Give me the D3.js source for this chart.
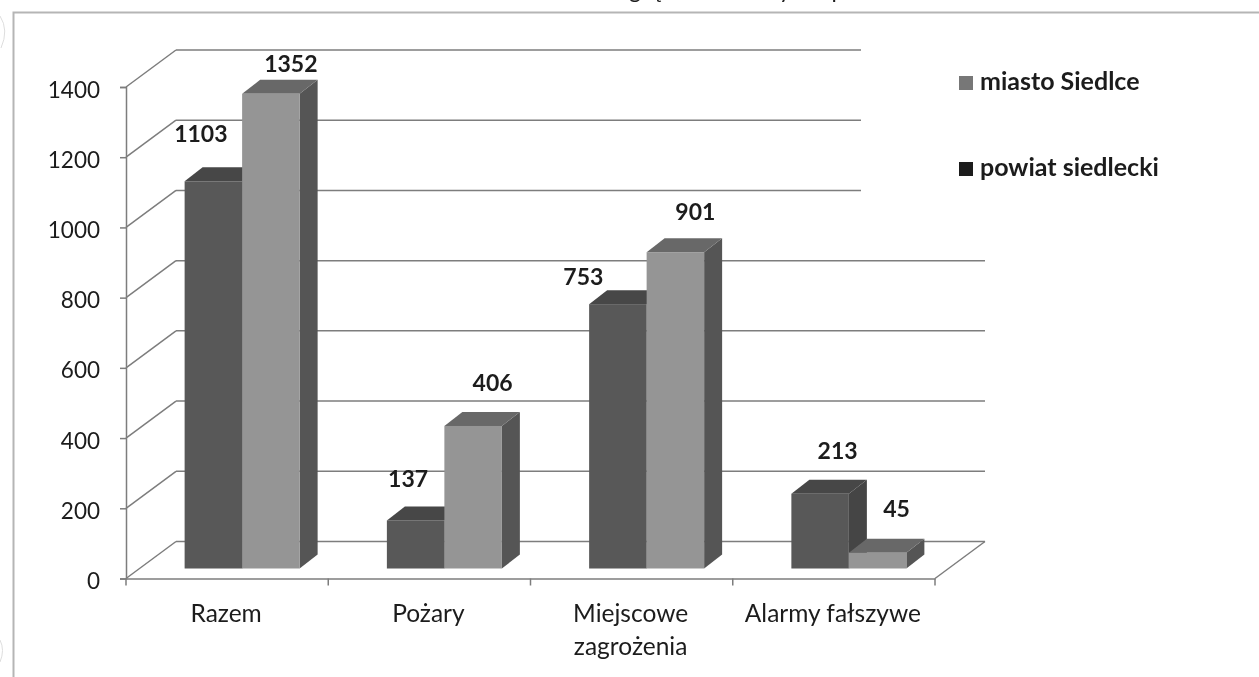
<!DOCTYPE html>
<html lang="pl">
<head>
<meta charset="utf-8">
<title>Wykres</title>
<script src="https://cdn.jsdelivr.net/npm/d3@7/dist/d3.min.js"></script>
<style>
html,body{margin:0;padding:0;background:#fff;overflow:hidden}
svg{display:block}
text{font-family:Lato,"Open Sans",sans-serif;fill:#1b1b1b}
</style>
</head>
<body>
<svg id="chart" width="1259" height="677"></svg>
<script>
const categories = ["Razem", "Pożary", "Miejscowe zagrożenia", "Alarmy fałszywe"];
const seriesNames = ["powiat siedlecki", "miasto Siedlce"];
const powiatValues = [1103, 137, 753, 213];
const miastoValues = [1352, 406, 901, 45];
const yTicks = [0, 200, 400, 600, 800, 1000, 1200, 1400];

// manual data-label placement, relative to the top centre of each bar
const labelShiftPowiat = [[-12.5, -39], [-7.5, -33], [-34.5, -19], [17.5, -35]];
const labelShiftMiasto = [[20, -22], [19.5, -34.6], [20, -32], [19, -36]];

const svg = d3.select("#chart");
const defs = svg.append("defs");
defs.append("filter").attr("id", "scan").attr("x", "-5%").attr("y", "-5%").attr("width", "110%").attr("height", "110%")
  .append("feGaussianBlur").attr("stdDeviation", 0.45);

const wallDx = 50, wallDy = -37;       // depth of the whole 3D box
const planeDx = 15, planeDy = -10;     // plane the bars stand on
const barDx = 18, barDy = -14;         // depth of a bar
const barGroupWidth = 115;

const x = d3.scaleBand().domain(categories).range([126, 935]);
const y = d3.scaleLinear().domain([0, 1400]).range([578.5, 87]);
const xInner = d3.scaleBand().domain(seriesNames).range([-barGroupWidth / 2, barGroupWidth / 2]);

const fills = {
  "powiat siedlecki": {front: "#595959", top: "#474747", side: "#444444"},
  "miasto Siedlce":   {front: "#959595", top: "#686868", side: "#555555"}
};

const root = svg.append("g").attr("filter", "url(#scan)");

// page frame
root.append("path").attr("d", "M13.5,677V12.5H1259").attr("fill", "none").attr("stroke", "#b5b5b5").attr("stroke-width", 2);
root.append("path").attr("d", "M0,16Q9,30 1,48M0,640Q5,650 0,662").attr("fill", "none").attr("stroke", "#dddddd");

// fragments of the cut-off heading above the frame
const headingBits = [["g", 635], ["ę", 658], ["y", 785], ["p", 838]];
root.selectAll("text.heading").data(headingBits).join("text").attr("class", "heading")
  .attr("x", d => d[1]).attr("y", -2).attr("text-anchor", "middle").attr("font-size", 23).text(d => d[0]);

const stroke = "#7d7d7d";
// back-wall gridlines and side-wall diagonals
const grid = root.append("g").attr("fill", "none").attr("stroke", stroke).attr("stroke-width", 1.5);
grid.selectAll("line.h").data(yTicks).join("line").attr("class", "h")
  .attr("x1", x.range()[0] + wallDx).attr("x2", x.range()[1] + wallDx)
  .attr("y1", d => y(d) + wallDy).attr("y2", d => y(d) + wallDy);
grid.selectAll("line.d").data(yTicks).join("line").attr("class", "d")
  .attr("x1", x.range()[0]).attr("x2", x.range()[0] + wallDx)
  .attr("y1", d => y(d)).attr("y2", d => y(d) + wallDy);
grid.append("line").attr("x1", x.range()[1]).attr("x2", x.range()[1] + wallDx)
  .attr("y1", y(0)).attr("y2", y(0) + wallDy);

// legend panel masks the gridlines behind it
root.append("rect").attr("x", 861).attr("y", 30).attr("width", 340).attr("height", 195).attr("fill", "#fff");

// y axis
const yAxis = root.append("g").attr("transform", `translate(${x.range()[0]},0)`)
  .call(d3.axisLeft(y).tickValues(yTicks).tickSize(6).tickPadding(20).tickFormat(d3.format("d")));
yAxis.selectAll("path,line").attr("stroke", stroke).attr("stroke-width", 1.5);
yAxis.selectAll("text").attr("font-size", 22.5).attr("fill", "#1b1b1b").attr("dy", "0.45em");

// x axis: baseline from the library, ticks on the band edges
const xAxis = root.append("g").attr("transform", `translate(0,${y(0)})`)
  .call(d3.axisBottom(x).tickSize(0).tickFormat(""));
xAxis.select("path").attr("stroke", stroke).attr("stroke-width", 1.5);
xAxis.selectAll("text").remove();
root.selectAll("line.xt").data(d3.range(categories.length + 1)).join("line").attr("class", "xt")
  .attr("x1", i => x.range()[0] + i * x.step()).attr("x2", i => x.range()[0] + i * x.step())
  .attr("y1", y(0)).attr("y2", y(0) + 7).attr("stroke", stroke).attr("stroke-width", 1.5);

// x labels, wrapped onto two lines where the original wraps
const xl = root.selectAll("text.cat").data(categories).join("text").attr("class", "cat")
  .attr("text-anchor", "middle").attr("font-size", 24.5)
  .attr("transform", d => `translate(${x(d) + x.bandwidth() / 2 - 1},622)`);
xl.each(function (d) {
  const t = d3.select(this);
  const parts = d === "Miejscowe zagrożenia" ? d.split(" ") : [d];
  parts.forEach((p, i) => t.append("tspan").attr("x", 0).attr("y", i * 33).text(p));
});

// bars
const rows = [];
categories.forEach((c, i) => {
  rows.push({c, s: seriesNames[0], v: powiatValues[i], shift: labelShiftPowiat[i]});
  rows.push({c, s: seriesNames[1], v: miastoValues[i], shift: labelShiftMiasto[i]});
});
const bx = d => x(d.c) + x.bandwidth() / 2 + planeDx + xInner(d.s);
const bw = xInner.bandwidth();
const by = v => y(v) + planeDy;

const bars = root.selectAll("g.bar").data(rows).join("g").attr("class", "bar");
bars.append("path").attr("fill", d => fills[d.s].side).attr("d", d => {
  const r = bx(d) + bw;
  return `M${r},${by(d.v)}L${r + barDx},${by(d.v) + barDy}V${by(0) + barDy}L${r},${by(0)}Z`;
});
bars.append("path").attr("fill", d => fills[d.s].top).attr("d", d => {
  const l = bx(d), t = by(d.v);
  return `M${l},${t}L${l + barDx},${t + barDy}H${l + bw + barDx}L${l + bw},${t}Z`;
});
bars.append("rect").attr("fill", d => fills[d.s].front)
  .attr("x", d => bx(d)).attr("y", d => by(d.v)).attr("width", bw).attr("height", d => by(0) - by(d.v));

// data labels
root.selectAll("text.val").data(rows).join("text").attr("class", "val")
  .attr("text-anchor", "middle").attr("font-size", 23).attr("font-weight", 700)
  .attr("x", d => bx(d) + bw / 2 + d.shift[0]).attr("y", d => by(d.v) + d.shift[1]).text(d => d.v);

// legend
const legend = root.selectAll("g.leg").data(seriesNames.slice().reverse()).join("g").attr("class", "leg")
  .attr("transform", (d, i) => `translate(959,${76 + i * 86})`);
legend.append("rect").attr("width", 14).attr("height", 14).attr("fill", (d, i) => i ? "#1b1b1b" : "#777777");
legend.append("text").attr("x", 21).attr("y", 13.5).attr("font-size", 25).attr("font-weight", 700).text(d => d);
</script>
</body>
</html>
